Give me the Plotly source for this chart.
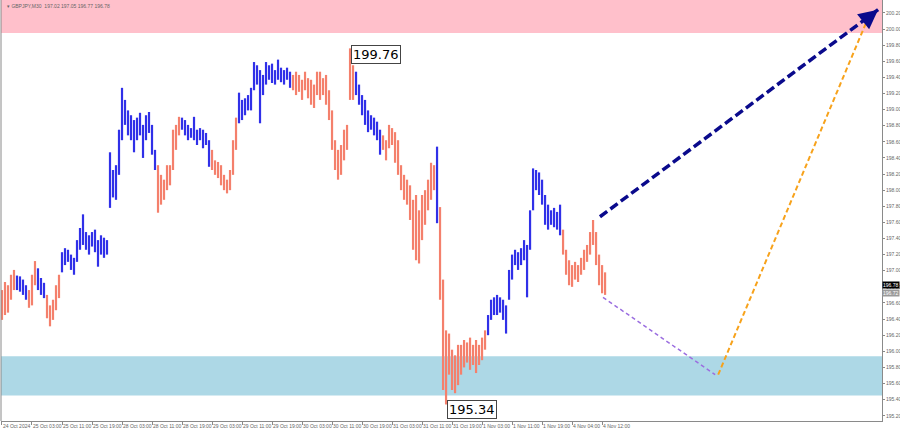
"""GBPJPY M30 wave chart with forecast lines (MT4 style)."""

import plotly.graph_objects as go

# ---------------------------------------------------------------------------
# Data
# ---------------------------------------------------------------------------
TITLE_TEXT = "\u25be GBPJPY,M30  197.02 197.05 196.77 196.78"

bar_high = [
    196.76, 196.86, 196.82, 196.95, 197.01, 196.94, 196.93, 196.89, 196.82, 196.76,
    196.95, 197.12, 197.03, 196.91, 196.85, 196.70, 196.57, 196.64, 196.82, 196.95,
    197.23, 197.28, 197.26, 197.20, 197.16, 197.38, 197.53, 197.70, 197.48, 197.44,
    197.48, 197.51, 197.38, 197.44, 197.41, 197.38, 198.47, 198.25, 198.31, 198.75,
    199.27, 199.12, 198.99, 198.93, 198.87, 198.90, 198.96, 198.81, 198.93, 198.97,
    198.81, 198.50, 198.31, 198.19, 198.13, 198.31, 198.31, 198.75, 198.81, 198.91,
    198.90, 198.87, 198.81, 198.77, 198.91, 198.75, 198.77, 198.75, 198.71, 198.62,
    198.50, 198.37, 198.35, 198.31, 198.19, 198.13, 198.25, 198.62, 198.90, 199.21,
    199.12, 199.14, 199.18, 199.27, 199.59, 199.55, 199.49, 199.43, 199.59, 199.55,
    199.57, 199.49, 199.62, 199.52, 199.49, 199.52, 199.47, 199.43, 199.47, 199.43,
    199.37, 199.47, 199.39, 199.37, 199.31, 199.47, 199.47, 199.39, 199.43, 199.24,
    198.99, 198.62, 198.50, 198.56, 198.75, 198.81, 199.76, 199.55, 199.47, 199.31,
    199.18, 199.12, 198.99, 198.93, 198.90, 198.85, 198.75, 198.68, 198.62, 198.81,
    198.77, 198.72, 198.62, 198.31, 198.19, 198.13, 198.06, 197.88, 197.94, 197.75,
    197.94, 198.00, 198.13, 198.34, 198.31, 198.54, 197.79, 196.89, 196.26, 196.22,
    196.02, 195.95, 196.08, 196.08, 196.14, 196.11, 196.17, 196.08, 196.14, 196.08,
    196.17, 196.26, 196.45, 196.64, 196.67, 196.70, 196.67, 196.64, 196.57, 197.01,
    197.20, 197.26, 197.23, 197.28, 197.38, 197.32, 197.75, 198.27, 198.25, 198.22,
    198.13, 197.94, 197.82, 197.75, 197.78, 197.73, 197.82, 197.51, 197.26, 197.13,
    197.07, 197.11, 197.07, 197.16, 197.26, 197.32, 197.48, 197.63, 197.48, 197.20,
    197.07, 196.98,
]

bar_low = [
    196.39, 196.45, 196.48, 196.64, 196.76, 196.76, 196.74, 196.70, 196.64, 196.54,
    196.57, 196.82, 196.76, 196.70, 196.66, 196.41, 196.31, 196.39, 196.51, 196.66,
    196.98, 197.07, 197.11, 197.01, 196.95, 197.11, 197.26, 197.32, 197.26, 197.20,
    197.30, 197.23, 197.05, 197.20, 197.16, 197.20, 197.78, 197.91, 197.88, 198.19,
    198.62, 198.81, 198.68, 198.62, 198.47, 198.62, 198.68, 198.40, 198.62, 198.71,
    198.44, 198.25, 197.72, 197.82, 197.88, 198.00, 198.06, 198.25, 198.50, 198.68,
    198.75, 198.68, 198.62, 198.65, 198.62, 198.56, 198.62, 198.52, 198.56, 198.29,
    198.25, 198.19, 198.15, 198.06, 198.00, 197.96, 198.00, 198.19, 198.50, 198.83,
    198.87, 198.93, 198.99, 198.99, 199.24, 199.31, 198.83, 199.18, 199.31, 199.37,
    199.33, 199.31, 199.37, 199.34, 199.31, 199.37, 199.27, 199.24, 199.18, 199.22,
    199.12, 199.24, 199.14, 199.06, 199.02, 199.18, 199.12, 199.18, 199.06, 198.87,
    198.50, 198.25, 198.13, 198.19, 198.37, 198.50, 199.12, 199.12, 199.18, 199.06,
    198.93, 198.81, 198.72, 198.75, 198.68, 198.62, 198.44, 198.50, 198.37, 198.52,
    198.56, 198.34, 198.19, 198.00, 197.88, 197.82, 197.63, 197.26, 197.13, 197.09,
    197.38, 197.57, 197.75, 197.88, 198.00, 197.59, 196.64, 195.52, 195.34, 195.71,
    195.52, 195.48, 195.58, 195.71, 195.80, 195.86, 195.77, 195.83, 195.73, 195.83,
    195.89, 196.02, 196.20, 196.39, 196.45, 196.45, 196.48, 196.39, 196.22, 196.64,
    196.89, 197.07, 197.01, 197.07, 197.13, 196.67, 197.26, 197.75, 198.00, 197.94,
    197.82, 197.57, 197.51, 197.57, 197.54, 197.51, 197.44, 197.20, 196.95, 196.82,
    196.80, 196.89, 196.86, 196.95, 197.01, 197.11, 197.20, 197.32, 197.07, 196.82,
    196.72, 196.70,
]

# first bar index of each wave; waves alternate salmon / blue
wave_starts = [0, 5, 9, 12, 15, 20, 52, 60, 70, 79, 97, 118, 127, 145, 146, 162, 187]

x_tick_bars = list(range(0, 201, 10))
x_tick_labels = [
    "24 Oct 2024", "25 Oct 03:00", "25 Oct 11:00", "25 Oct 19:00",
    "28 Oct 03:00", "28 Oct 11:00", "28 Oct 19:00", "29 Oct 03:00",
    "29 Oct 11:00", "29 Oct 19:00", "30 Oct 03:00", "30 Oct 11:00",
    "30 Oct 19:00", "31 Oct 03:00", "31 Oct 11:00", "31 Oct 19:00",
    "1 Nov 03:00", "1 Nov 11:00", "1 Nov 19:00", "4 Nov 04:00", "4 Nov 12:00",
]
y_tick_vals = [195.2, 195.4, 195.6, 195.8, 196.0, 196.2, 196.4, 196.6, 196.8, 197.0,
               197.2, 197.4, 197.6, 197.8, 198.0, 198.2, 198.4, 198.6, 198.8, 199.0,
               199.2, 199.4, 199.6, 199.8, 200.0, 200.2]

# target / support zones
resist_zone = (199.95, 200.40)
support_zone = (195.45, 195.94)

# forecast paths (bar index, price)
main_fc_x = [199.3, 292.0]
main_fc_y = [197.67, 200.24]
down_fc_x = [200.3, 237.7]
down_fc_y = [196.67, 195.71]
alt_fc_x = [238.7, 288.7]
alt_fc_y = [195.71, 200.14]

swing_high = (116, 199.76)
swing_low = (148, 195.34)

# ---------------------------------------------------------------------------
# Colours
# ---------------------------------------------------------------------------
_COLOUR_UP = "#3030e8"
_COLOUR_DOWN = "#f4806c"
_COLOUR_PINK = "#ffc0cb"
_COLOUR_LIGHTBLUE = "#add8e6"
_COLOUR_NAVY = "#0a0a8c"
_COLOUR_ORANGE = "#f7a21b"
_COLOUR_PURPLE = "#9b6ee0"
_COLOUR_AXIS = "#8a8a8a"
_FONT = "Liberation Sans"

fig = go.Figure()

# split bars into salmon / blue waves
groups = {_COLOUR_DOWN: ([], [], []), _COLOUR_UP: ([], [], [])}
bounds = wave_starts + [len(bar_high)]
for w in range(len(wave_starts)):
    colour = _COLOUR_DOWN if w % 2 == 0 else _COLOUR_UP
    xs, hs, ls = groups[colour]
    for i in range(bounds[w], bounds[w + 1]):
        xs.append(i)
        hs.append(bar_high[i])
        ls.append(bar_low[i])

for colour, (xs, hs, ls) in groups.items():
    fig.add_trace(
        go.Ohlc(
            x=xs,
            open=ls,
            high=hs,
            low=ls,
            close=hs,
            tickwidth=0,
            increasing={"line": {"color": colour, "width": 2.2}},
            decreasing={"line": {"color": colour, "width": 2.2}},
            hoverinfo="skip",
            showlegend=False,
        )
    )

# forecast lines
fig.add_trace(go.Scatter(x=down_fc_x, y=down_fc_y, mode="lines", showlegend=False,
                         line={"color": _COLOUR_PURPLE, "width": 1.5, "dash": "4px,3px"}))
fig.add_trace(go.Scatter(x=alt_fc_x, y=alt_fc_y, mode="lines", showlegend=False,
                         line={"color": _COLOUR_ORANGE, "width": 2, "dash": "5px,3px"}))
fig.add_trace(go.Scatter(x=main_fc_x, y=main_fc_y, mode="lines", showlegend=False,
                         line={"color": _COLOUR_NAVY, "width": 3.5, "dash": "9px,4px"}))
fig.add_annotation(
    x=main_fc_x[1], y=main_fc_y[1], ax=288.0, ay=200.12,
    xref="x", yref="y", axref="x", ayref="y",
    text="", showarrow=True, arrowhead=2, arrowsize=1.1, arrowwidth=3.5,
    arrowcolor=_COLOUR_NAVY,
)

# zones
fig.add_shape(type="rect", xref="paper", x0=0, x1=1, yref="y",
              y0=resist_zone[0], y1=resist_zone[1],
              fillcolor=_COLOUR_PINK, line_width=0, layer="below")
fig.add_shape(type="rect", xref="paper", x0=0, x1=1, yref="y",
              y0=support_zone[0], y1=support_zone[1],
              fillcolor=_COLOUR_LIGHTBLUE, line_width=0, layer="below")
fig.add_shape(type="line", xref="paper", x0=0, x1=0, yref="paper", y0=0, y1=1,
              line={"color": _COLOUR_AXIS, "width": 1})

# swing labels
for (bx, price), anchor_y in ((swing_high, 199.80), (swing_low, 195.40)):
    fig.add_annotation(
        x=bx + 0.3, y=anchor_y, xref="x", yref="y",
        text=f"{price:.2f}", showarrow=False,
        xanchor="left", yanchor="top",
        font={"family": "DejaVu Sans", "size": 13, "color": "black"},
        bgcolor="white", bordercolor="#444", borderwidth=1, borderpad=1,
    )

# current price tags on the axis
fig.add_annotation(x=1, y=196.825, xref="paper", yref="y", text="196.78",
                   showarrow=False, xanchor="left", yanchor="middle", bgcolor="black",
                   borderpad=0,
                   font={"family": _FONT, "size": 5, "color": "white"})
fig.add_annotation(x=1, y=196.72, xref="paper", yref="y", text="196.72",
                   showarrow=False, xanchor="left", yanchor="middle", bgcolor="#9a9a9a",
                   borderpad=0,
                   font={"family": _FONT, "size": 5, "color": "white"})

# header text
fig.add_annotation(x=0.004, y=0.997, xref="paper", yref="paper", text=TITLE_TEXT,
                   showarrow=False, xanchor="left", yanchor="top",
                   font={"family": _FONT, "size": 5, "color": "#666"})

fig.update_layout(
    width=900,
    height=432,
    margin={"l": 1, "r": 18, "t": 0, "b": 11, "autoexpand": False},
    paper_bgcolor="white",
    plot_bgcolor="white",
    showlegend=False,
    xaxis={
        "range": [-0.33, 293.3],
        "rangeslider": {"visible": False},
        "tickvals": x_tick_bars,
        "ticktext": x_tick_labels,
        "tickangle": 0,
        "ticks": "outside",
        "ticklen": 3,
        "tickcolor": _COLOUR_AXIS,
        "ticklabelposition": "outside right",
        "tickfont": {"family": _FONT, "size": 5, "color": "#666"},
        "showgrid": False,
        "zeroline": False,
        "showline": True,
        "linecolor": _COLOUR_AXIS,
        "automargin": False,
        "fixedrange": True,
    },
    yaxis={
        "range": [195.135, 200.36],
        "side": "right",
        "tickvals": y_tick_vals,
        "tickformat": ".2f",
        "ticks": "outside",
        "ticklen": 2,
        "tickcolor": _COLOUR_AXIS,
        "tickfont": {"family": _FONT, "size": 5, "color": "#666"},
        "showgrid": False,
        "zeroline": False,
        "showline": True,
        "linecolor": _COLOUR_AXIS,
        "automargin": False,
        "fixedrange": True,
    },
)

# the page body has a default 8px margin; drop it so the figure fills the window
fig.write_html(
    "out.html",
    config={"displayModeBar": False},
    post_script="document.body.style.margin = '0'; document.body.style.overflow = 'hidden';",
)
